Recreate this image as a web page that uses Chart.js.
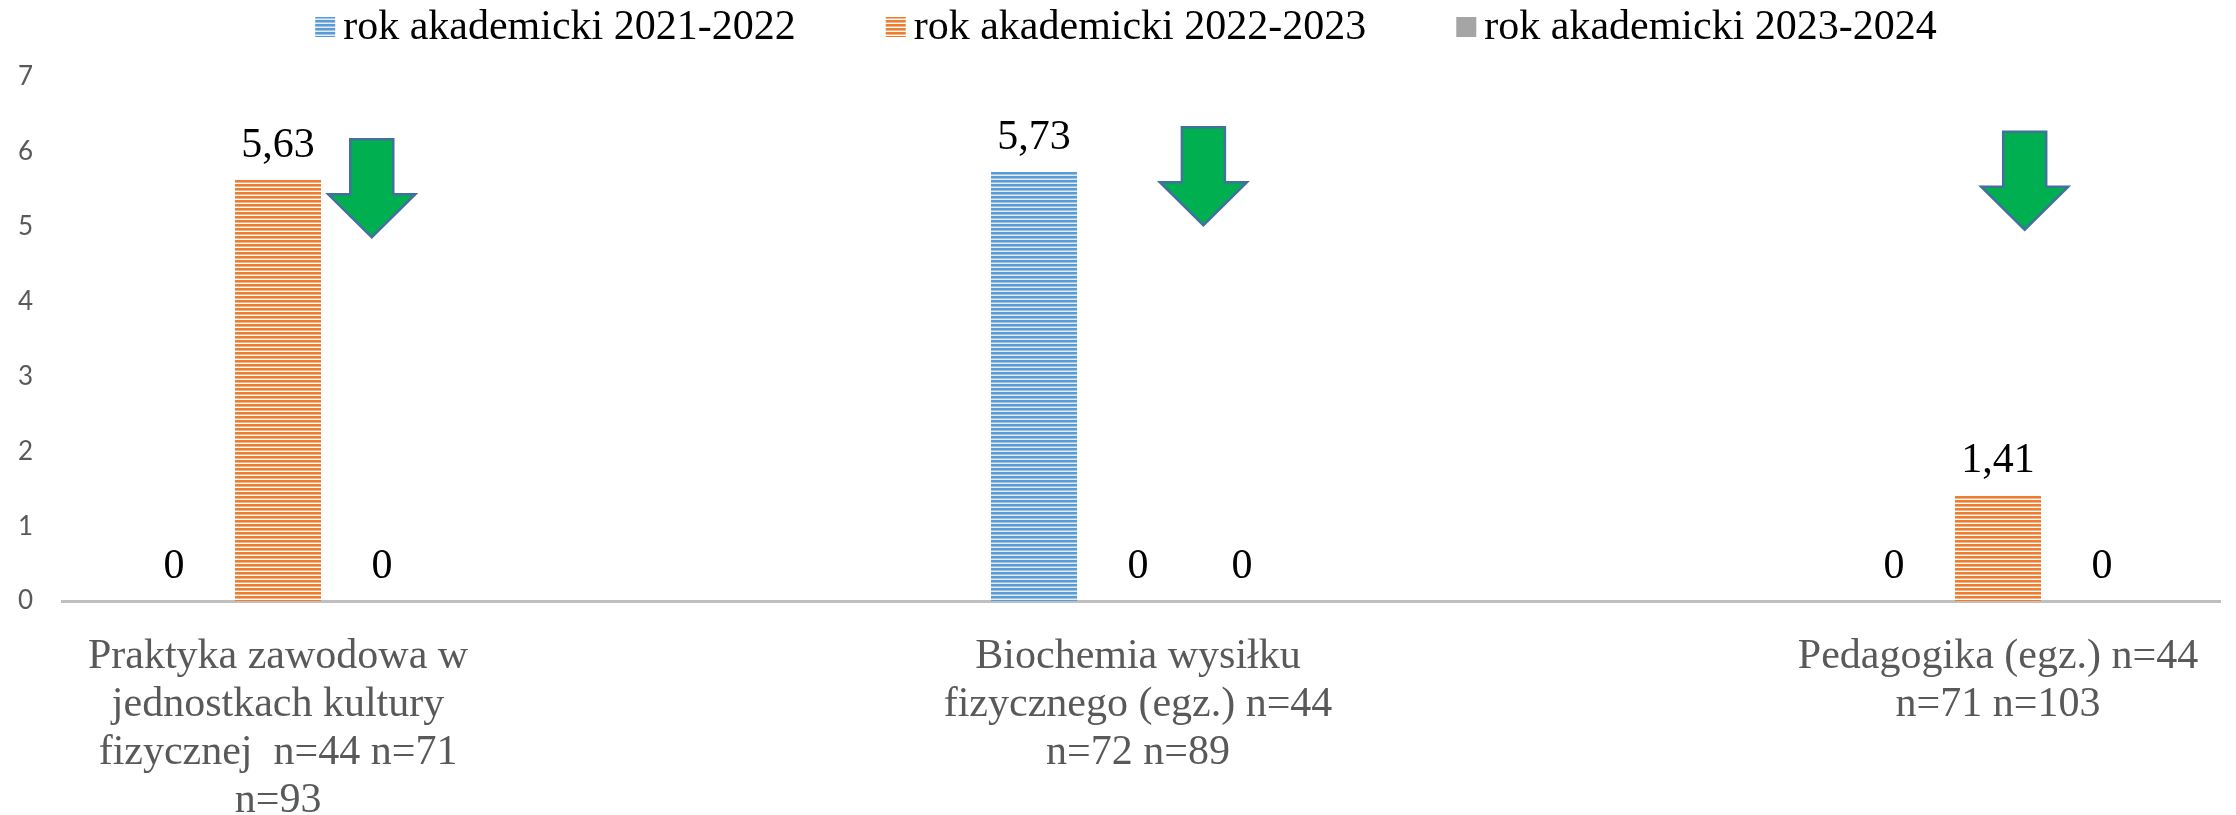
<!DOCTYPE html>
<html>
<head>
<meta charset="utf-8">
<script src="https://cdn.jsdelivr.net/npm/chart.js@4.4.0/dist/chart.umd.min.js"></script>
<style>
  html, body { margin: 0; padding: 0; background: #fff; }
  #wrap { width: 2236px; height: 815px; position: relative; }
</style>
</head>
<body>
<div id="wrap"><canvas id="graph"></canvas></div>
<script>
// categories (one label line per array item)
const categories = [
    ['Praktyka zawodowa w', 'jednostkach kultury', 'fizycznej  n=44 n=71', 'n=93'],
    ['Biochemia wysiłku', 'fizycznego (egz.) n=44', 'n=72 n=89'],
    ['Pedagogika (egz.) n=44', 'n=71 n=103']
]
const seriesNames = ['rok akademicki 2021-2022', 'rok akademicki 2022-2023', 'rok akademicki 2023-2024']
const values2122 = [0, 5.73, 0]
const values2223 = [5.63, 0, 1.41]
const values2324 = [0, 0, 0]
const yTicks = [0, 1, 2, 3, 4, 5, 6, 7]

// green "down" arrows: anchor = (category position, value at arrow top)
const arrowX = [0.109, 1.076, 2.031]
const arrowTop = [6.17, 6.33, 6.27]

const serif = '"Liberation Serif", "Times New Roman", serif'
const blue =   'rgb(91, 155, 213)'
const orange = 'rgb(237, 125, 49)'
const grey =   'rgb(165, 165, 165)'
const labelGrey = 'rgb(89, 89, 89)'

//horizontal stripe fill like the Excel pattern
function stripes(rows) {
    const c = document.createElement('canvas')
    c.width = 8
    c.height = rows.length
    const g = c.getContext('2d')
    rows.forEach((col, i) => { g.fillStyle = col; g.fillRect(0, i, 8, 1) })
    return g.createPattern(c, 'repeat')
}
const bluePattern = stripes([blue, blue, 'rgb(160, 196, 232)', 'rgb(225, 237, 249)'])
const orangePattern = stripes([orange, orange, 'rgb(245, 176, 128)', '#ffffff'])

function pts(vals) { return vals.map((v, i) => ({x: i, y: v})) }
function fmt(v) { return v === 0 ? '0' : v.toFixed(2).replace('.', ',') }

//value labels above each bar
const valueLabels = {
    id: 'valueLabels',
    afterDatasetsDraw(chart) {
        const ctx = chart.ctx
        ctx.save()
        ctx.font = '42px ' + serif
        ctx.fillStyle = '#000'
        ctx.textAlign = 'center'
        ctx.textBaseline = 'alphabetic'
        chart.data.datasets.forEach((ds, di) => {
            chart.getDatasetMeta(di).data.forEach((el, i) => {
                ctx.fillText(fmt(ds.data[i].y), el.x, el.y - 23)
            })
        })
        ctx.restore()
    }
}

//arrows drawn on top of the plot
const arrows = {
    id: 'arrows',
    afterDatasetsDraw(chart) {
        const ctx = chart.ctx
        const xs = chart.scales.x, ys = chart.scales.y
        const w = 87, sw = 43, sh = 55, h = 98
        ctx.save()
        ctx.fillStyle = 'rgb(0, 176, 80)'
        ctx.strokeStyle = 'rgb(65, 113, 156)'
        ctx.lineWidth = 2.5
        ctx.lineJoin = 'miter'
        arrowX.forEach((ax, i) => {
            const cx = xs.getPixelForValue(ax)
            const top = ys.getPixelForValue(arrowTop[i])
            ctx.beginPath()
            ctx.moveTo(cx - sw / 2, top)
            ctx.lineTo(cx + sw / 2, top)
            ctx.lineTo(cx + sw / 2, top + sh)
            ctx.lineTo(cx + w / 2, top + sh)
            ctx.lineTo(cx, top + h)
            ctx.lineTo(cx - w / 2, top + sh)
            ctx.lineTo(cx - sw / 2, top + sh)
            ctx.closePath()
            ctx.fill()
            ctx.stroke()
        })
        ctx.restore()
    }
}

//legend on top, drawn by hand to get Excel spacing
const topLegend = {
    id: 'topLegend',
    afterDraw(chart) {
        const ctx = chart.ctx
        const fills = [bluePattern, orangePattern, grey]
        ctx.save()
        ctx.font = '42px ' + serif
        const box = 20, gapIn = 8, gapOut = 90
        const widths = seriesNames.map(t => ctx.measureText(t).width)
        const total = widths.reduce((a, b) => a + b, 0) + 3 * (box + gapIn) + 2 * gapOut
        let x = 1126 - total / 2
        const yMid = 27
        seriesNames.forEach((name, i) => {
            ctx.fillStyle = fills[i]
            ctx.fillRect(x, yMid - box / 2, box, box)
            x += box + gapIn
            ctx.fillStyle = '#000'
            ctx.textBaseline = 'middle'
            ctx.textAlign = 'left'
            ctx.fillText(name, x, yMid + 1)
            x += widths[i] + gapOut
        })
        ctx.restore()
    }
}

const ctx = document.getElementById('graph')
const myChart = new Chart(ctx, {
    type: 'bar',
    data: {
        datasets: [
            {label: seriesNames[0], data: pts(values2122), backgroundColor: bluePattern},
            {label: seriesNames[1], data: pts(values2223), backgroundColor: orangePattern},
            {label: seriesNames[2], data: pts(values2324), backgroundColor: grey},
        ]
    },
    options: {
        responsive: true,
        maintainAspectRatio: false,
        animation: false,
        devicePixelRatio: 1,
        categoryPercentage: 0.3628,
        barPercentage: 0.827,
        layout: {padding: {top: 77, right: 16, left: 0, bottom: 0}},
        plugins: {
            legend: {display: false},
            tooltip: {enabled: false},
        },
        scales: {
            x: {
                type: 'linear',
                bounds: 'data',
                offset: false,
                min: -0.2512,
                max: 2.2581,
                grid: {display: false, offset: false},
                border: {display: true, color: 'rgb(191, 191, 191)', width: 3},
                ticks: {
                    autoSkip: false,
                    maxRotation: 0,
                    minRotation: 0,
                    padding: 24,
                    color: labelGrey,
                    font: {family: serif, size: 42, lineHeight: 1.14},
                    callback: function(value) {
                        return categories[Math.round(value)]
                    }
                },
                //one tick per category
                afterBuildTicks: function(scale) {
                    scale.ticks = categories.map((c, i) => ({value: i}))
                },
                afterFit: function(scale) { scale.height = 214 }
            },
            y: {
                min: yTicks[0],
                max: yTicks[yTicks.length - 1],
                grid: {display: false, drawTicks: false},
                border: {display: false},
                ticks: {
                    stepSize: 1,
                    padding: 29,
                    color: labelGrey,
                    font: {family: 'Lato, "Noto Sans", sans-serif', size: 26},
                },
                afterFit: function(scale) { scale.width = 62 }
            }
        }
    },
    plugins: [valueLabels, arrows, topLegend]
})
</script>
</body>
</html>
